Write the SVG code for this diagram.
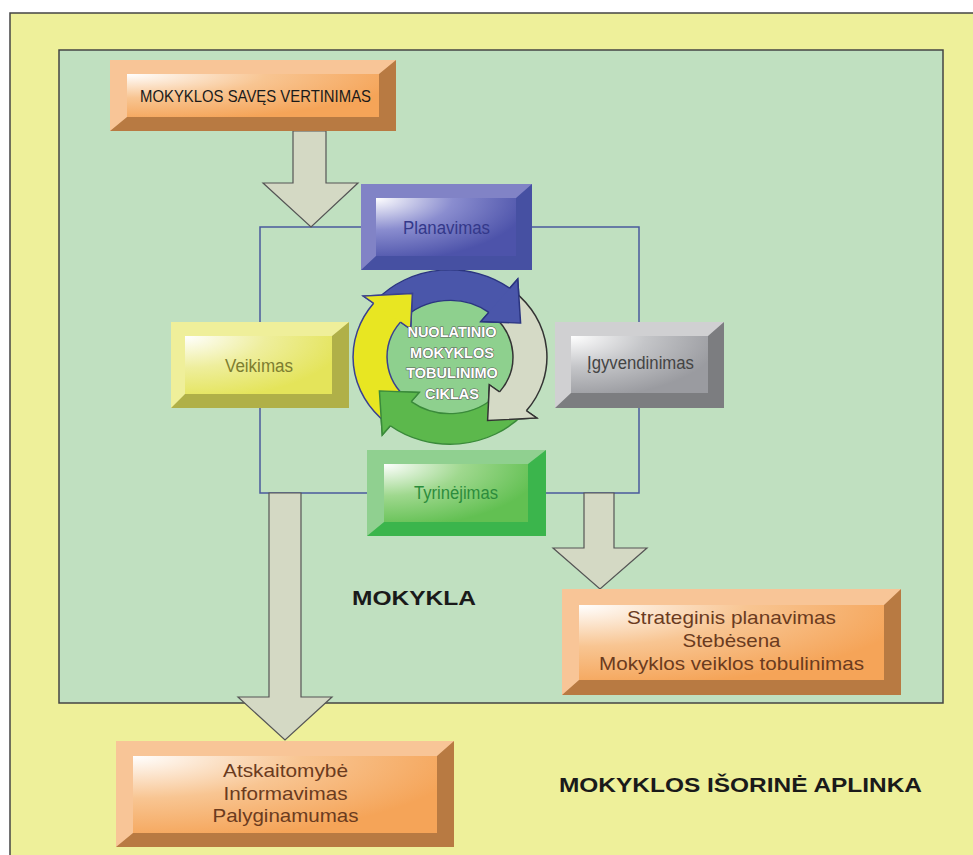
<svg xmlns="http://www.w3.org/2000/svg" width="973" height="855" viewBox="0 0 973 855">
<defs>
<style>
.t{font-family:"Liberation Sans",Arial,sans-serif;}
.bar{fill:#d4d9c4;stroke:#555;stroke-width:1.2;}
.lnk{fill:none;stroke:#4a5a9c;stroke-width:1.5;}
.ot{font-family:"Liberation Sans",Arial,sans-serif;font-size:18.5px;fill:#6b3b1e;text-anchor:middle;}
.ct{font-family:"Liberation Sans",Arial,sans-serif;font-size:14.5px;font-weight:bold;fill:#fff;stroke:#5a5a5a;stroke-width:1.1;paint-order:stroke;text-anchor:middle;}
</style>
<radialGradient id="gO" cx="0" cy="0" r="1.1" fx="0" fy="0"><stop offset="0" stop-color="#fff"/><stop offset="0.5" stop-color="#f8c592"/><stop offset="1" stop-color="#f5a458"/></radialGradient>
<radialGradient id="gB" cx="0" cy="0" r="1.1" fx="0" fy="0"><stop offset="0" stop-color="#fff"/><stop offset="0.5" stop-color="#8a8dcf"/><stop offset="1" stop-color="#4d53aa"/></radialGradient>
<radialGradient id="gG" cx="0" cy="0" r="1.1" fx="0" fy="0"><stop offset="0" stop-color="#fff"/><stop offset="0.5" stop-color="#c4c5c8"/><stop offset="1" stop-color="#9a9ba0"/></radialGradient>
<radialGradient id="gY" cx="0" cy="0" r="1.1" fx="0" fy="0"><stop offset="0" stop-color="#fff"/><stop offset="0.5" stop-color="#eeee9c"/><stop offset="1" stop-color="#e4e45a"/></radialGradient>
<radialGradient id="gN" cx="0" cy="0" r="1.1" fx="0" fy="0"><stop offset="0" stop-color="#fff"/><stop offset="0.5" stop-color="#9fd88e"/><stop offset="1" stop-color="#62c052"/></radialGradient>
</defs>

<rect x="10" y="13" width="975" height="855" fill="#eef09a" stroke="#444" stroke-width="1.5"/>
<rect x="59" y="50" width="884" height="653" fill="#c0e0c0" stroke="#444" stroke-width="1.5"/>

<g id="connectors">
<rect class="lnk" x="260" y="227" width="379" height="266"/>
<polygon class="bar" points="293,131 326,131 326,183 358,183 311,227 263,183 293,183"/>
<polygon class="bar" points="269,493 301,493 301,697 332,697 285,740 238,697 269,697"/>
<polygon class="bar" points="584,493 614,493 614,548 647,548 600,589 553,548 584,548"/>
</g>

<g id="cycle">
<g transform="translate(450,357) scale(1,0.9)">
<circle r="64" fill="#8ed08e" stroke="#dff0df" stroke-width="1"/>
<path d="M-73.2,-63.6 A97,97 0 0 1 59.7,-76.4 L67.7,-86.7 L70.6,-37.6 L30.8,-39.4 L38.8,-49.6 A63,63 0 0 0 -47.5,-41.3 Z" fill="#4a56aa" stroke="#2b3580" stroke-width="1.5"/>
<path d="M63.6,-73.2 A97,97 0 0 1 76.4,59.7 L86.7,67.7 L37.6,70.6 L39.4,30.8 L49.6,38.8 A63,63 0 0 0 41.3,-47.5 Z" fill="#d5dac6" stroke="#333" stroke-width="1.5"/>
<path d="M73.2,63.6 A97,97 0 0 1 -59.7,76.4 L-67.7,86.7 L-70.6,37.6 L-30.8,39.4 L-38.8,49.6 A63,63 0 0 0 47.5,41.3 Z" fill="#5cb84c" stroke="#3a8a3a" stroke-width="1.5"/>
<path d="M-63.6,73.2 A97,97 0 0 1 -76.4,-59.7 L-86.7,-67.7 L-37.6,-70.6 L-39.4,-30.8 L-49.6,-38.8 A63,63 0 0 0 -41.3,47.5 Z" fill="#e8e622" stroke="#3a4090" stroke-width="1.5"/>
<polygon points="59.7,-76.4 67.7,-86.7 70.6,-37.6 30.8,-39.4 38.8,-49.6" fill="#4a56aa"/>
<polyline points="59.7,-76.4 67.7,-86.7 70.6,-37.6 30.8,-39.4 38.8,-49.6" fill="none" stroke="#2b3580" stroke-width="1.5"/>
<polygon points="76.4,59.7 86.7,67.7 37.6,70.6 39.4,30.8 49.6,38.8" fill="#d5dac6"/>
<polyline points="76.4,59.7 86.7,67.7 37.6,70.6 39.4,30.8 49.6,38.8" fill="none" stroke="#333" stroke-width="1.5"/>
<polygon points="-59.7,76.4 -67.7,86.7 -70.6,37.6 -30.8,39.4 -38.8,49.6" fill="#5cb84c"/>
<polyline points="-59.7,76.4 -67.7,86.7 -70.6,37.6 -30.8,39.4 -38.8,49.6" fill="none" stroke="#3a8a3a" stroke-width="1.5"/>
<polygon points="-76.4,-59.7 -86.7,-67.7 -37.6,-70.6 -39.4,-30.8 -49.6,-38.8" fill="#e8e622"/>
<polyline points="-76.4,-59.7 -86.7,-67.7 -37.6,-70.6 -39.4,-30.8 -49.6,-38.8" fill="none" stroke="#3a4090" stroke-width="1.5"/>
</g>
<text class="ct" x="452" y="337">NUOLATINIO</text>
<text class="ct" x="452" y="358">MOKYKLOS</text>
<text class="ct" x="452" y="378">TOBULINIMO</text>
<text class="ct" x="452" y="399">CIKLAS</text>
</g>

<g id="node-savinimas">
<rect x="110" y="60" width="286" height="71" fill="#f8c597"/>
<polygon points="396,60 396,131 110,131 127,117 379,117 379,74" fill="#b87a42"/>
<rect x="127" y="74" width="252" height="43" fill="url(#gO)"/>
<text class="t" x="140" y="102" font-size="17" fill="#1a1a1a" textLength="231" lengthAdjust="spacingAndGlyphs">MOKYKLOS SAVĘS VERTINIMAS</text>
</g>

<g id="node-planavimas">
<rect x="361" y="184" width="171" height="86" fill="#8183c6"/>
<polygon points="532,184 532,270 361,270 376,256 516,256 516,198" fill="#4650a2"/>
<rect x="376" y="198" width="140" height="58" fill="url(#gB)"/>
<text class="t" x="446.5" y="234" font-size="17.5" fill="#33388a" text-anchor="middle" textLength="87" lengthAdjust="spacingAndGlyphs">Planavimas</text>
</g>

<g id="node-veikimas">
<rect x="171" y="322" width="178" height="86" fill="#efef9a"/>
<polygon points="349,322 349,408 171,408 185,394 332,394 332,336" fill="#b0b048"/>
<rect x="185" y="336" width="147" height="58" fill="url(#gY)"/>
<text class="t" x="259" y="372" font-size="18" fill="#7d7d30" text-anchor="middle" textLength="68" lengthAdjust="spacingAndGlyphs">Veikimas</text>
</g>

<g id="node-igyvendinimas">
<rect x="555" y="322" width="169" height="86" fill="#d0d0d2"/>
<polygon points="724,322 724,408 555,408 571,393 708,393 708,336" fill="#7c7d80"/>
<rect x="571" y="336" width="137" height="57" fill="url(#gG)"/>
<text class="t" x="640.5" y="369" font-size="17.5" fill="#444" text-anchor="middle" textLength="107" lengthAdjust="spacingAndGlyphs">Įgyvendinimas</text>
</g>

<g id="node-tyrinejimas">
<rect x="367" y="450" width="179" height="86" fill="#90d090"/>
<polygon points="546,450 546,536 367,536 384,522 528,522 528,464" fill="#3bb54c"/>
<rect x="384" y="464" width="144" height="58" fill="url(#gN)"/>
<text class="t" x="456" y="499" font-size="17.5" fill="#2c8c3c" text-anchor="middle" textLength="84" lengthAdjust="spacingAndGlyphs">Tyrinėjimas</text>
</g>

<g id="node-strateginis">
<rect x="562" y="589" width="339" height="106" fill="#f8c597"/>
<polygon points="901,589 901,695 562,695 579,680 884,680 884,605" fill="#b87a42"/>
<rect x="579" y="605" width="305" height="75" fill="url(#gO)"/>
<text class="ot" x="731.5" y="624" textLength="209" lengthAdjust="spacingAndGlyphs">Strateginis planavimas</text>
<text class="ot" x="731.5" y="647" textLength="98" lengthAdjust="spacingAndGlyphs">Stebėsena</text>
<text class="ot" x="731.5" y="670" textLength="265" lengthAdjust="spacingAndGlyphs">Mokyklos veiklos tobulinimas</text>
</g>

<g id="node-atskaitomybe">
<rect x="116" y="741" width="338" height="106" fill="#f8c597"/>
<polygon points="454,741 454,847 116,847 133,833 437,833 437,756" fill="#b87a42"/>
<rect x="133" y="756" width="304" height="77" fill="url(#gO)"/>
<text class="ot" x="285.5" y="777" textLength="125" lengthAdjust="spacingAndGlyphs">Atskaitomybė</text>
<text class="ot" x="285.5" y="800" textLength="124" lengthAdjust="spacingAndGlyphs">Informavimas</text>
<text class="ot" x="285.5" y="822" textLength="146" lengthAdjust="spacingAndGlyphs">Palyginamumas</text>
</g>

<g id="label-mokykla">
<text class="t" x="352" y="605" font-size="20" font-weight="bold" fill="#1a1a1a" textLength="124" lengthAdjust="spacingAndGlyphs">MOKYKLA</text>
</g>
<g id="label-aplinka">
<text class="t" x="559" y="792" font-size="21" font-weight="bold" fill="#1a1a1a" textLength="363" lengthAdjust="spacingAndGlyphs">MOKYKLOS IŠORINĖ APLINKA</text>
</g>
</svg>
